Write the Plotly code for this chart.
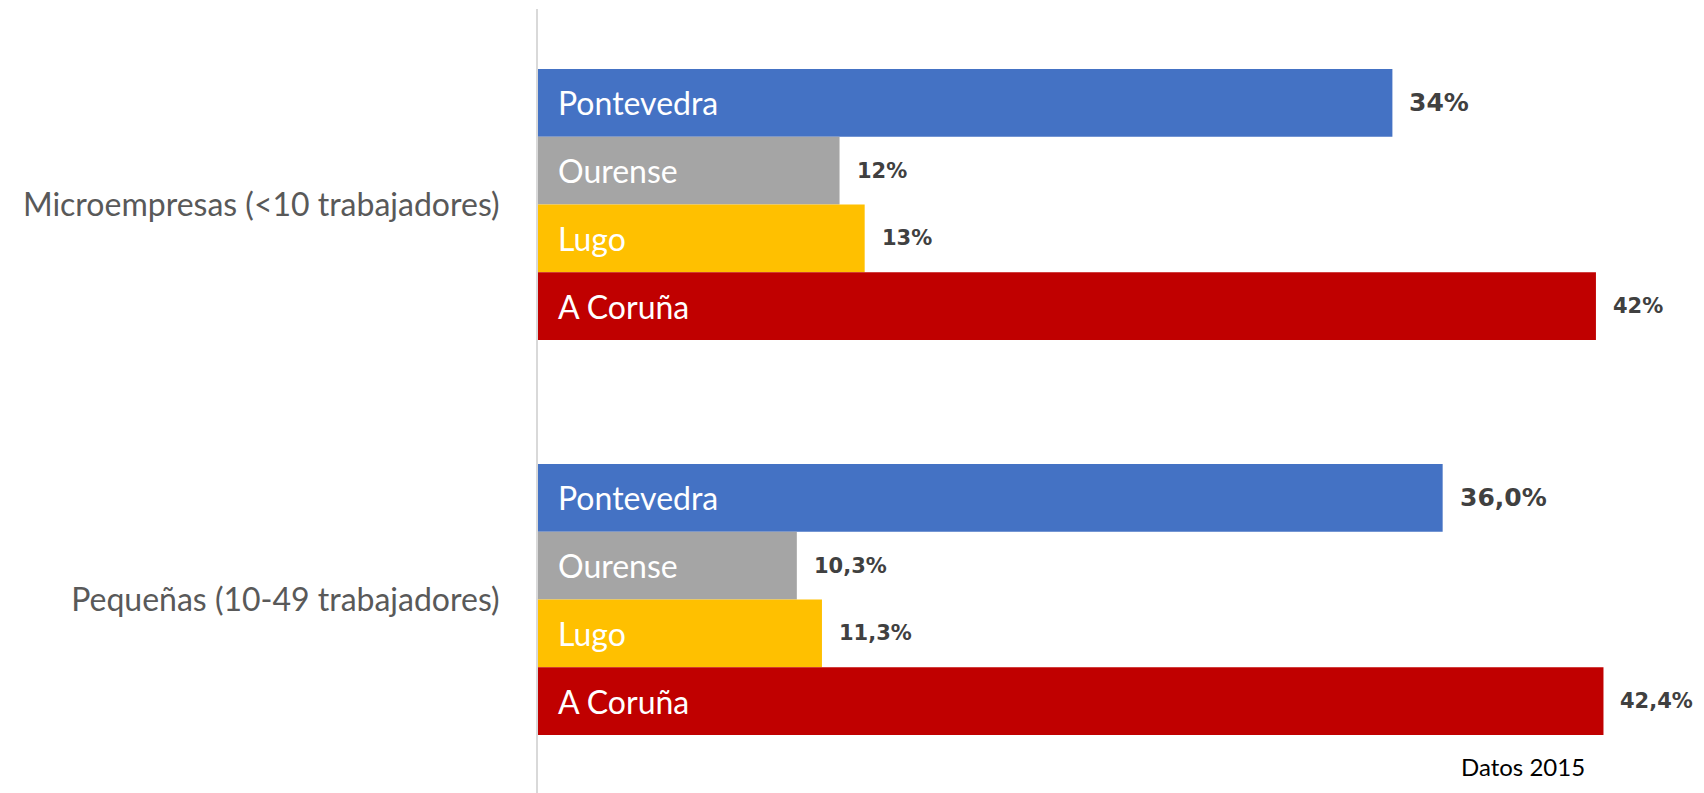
import plotly.graph_objects as go

# datos
categorias = ["Microempresas (<10 trabajadores)", "Pequeñas (10-49 trabajadores)"]
provincias = ["Pontevedra", "Ourense", "Lugo", "A Coruña"]
pontevedra = [34.0, 36.0]
ourense = [12.0, 10.3]
lugo = [13.0, 11.3]
coruna = [42.1, 42.4]
etiquetas = {
    "Pontevedra": ["34%", "36,0%"],
    "Ourense": ["12%", "10,3%"],
    "Lugo": ["13%", "11,3%"],
    "A Coruña": ["42%", "42,4%"],
}
valores = {"Pontevedra": pontevedra, "Ourense": ourense, "Lugo": lugo, "A Coruña": coruna}
colores = {"Pontevedra": "#4472C4", "Ourense": "#A5A5A5", "Lugo": "#FFC000", "A Coruña": "#C00000"}

# layout (la página añade 8px de margen en el body)
W, H = 1696, 785
M_L, M_R, M_T, M_B = 530, 0, 1, 0
Y_RANGE = [1.49, -0.495]
BARGAP = 0.314

fig = go.Figure()
for p in provincias:
    fig.add_bar(y=categorias, x=valores[p], name=p, orientation="h",
                marker=dict(color=colores[p], line=dict(width=0)))

# alto de cada barra en px, para colocar los textos
unit_px = (H - M_T - M_B) / abs(Y_RANGE[0] - Y_RANGE[1])
bar_px = unit_px * (1 - BARGAP) / len(provincias)

anots = []
for i, p in enumerate(provincias):
    shift = -(i - 1.5) * bar_px
    for j, c in enumerate(categorias):
        # nombre dentro de la barra
        anots.append(dict(x=0, y=c, xref="x", yref="y", text=p, showarrow=False,
                          xanchor="left", yanchor="middle", xshift=18, yshift=shift,
                          font=dict(family="Lato", size=32, color="white")))
        # valor fuera
        fs = 25 if p == "Pontevedra" else 21
        anots.append(dict(x=valores[p][j], y=c, xref="x", yref="y", text="<b>" + etiquetas[p][j] + "</b>",
                          showarrow=False, xanchor="left", yanchor="middle", xshift=15, yshift=shift,
                          font=dict(family="DejaVu Sans", size=fs, color="#404040")))

anots.append(dict(x=0.845, y=0.034, xref="paper", yref="paper", text="Datos 2015", showarrow=False,
                  xanchor="center", yanchor="middle", font=dict(family="Lato", size=24, color="black")))

fig.update_layout(
    width=W, height=H,
    margin=dict(l=M_L, r=M_R, t=M_T, b=M_B),
    paper_bgcolor="white", plot_bgcolor="white",
    barmode="group", bargap=BARGAP, bargroupgap=0,
    showlegend=False,
    annotations=anots,
    xaxis=dict(range=[0, 46.4], visible=False),
    yaxis=dict(range=Y_RANGE, showline=True, linecolor="#D9D9D9", linewidth=2,
               showgrid=False, zeroline=False, ticks="", ticklabelstandoff=30,
               tickfont=dict(family="Lato", size=32, color="#595959")),
)

fig.write_html("out.html")
